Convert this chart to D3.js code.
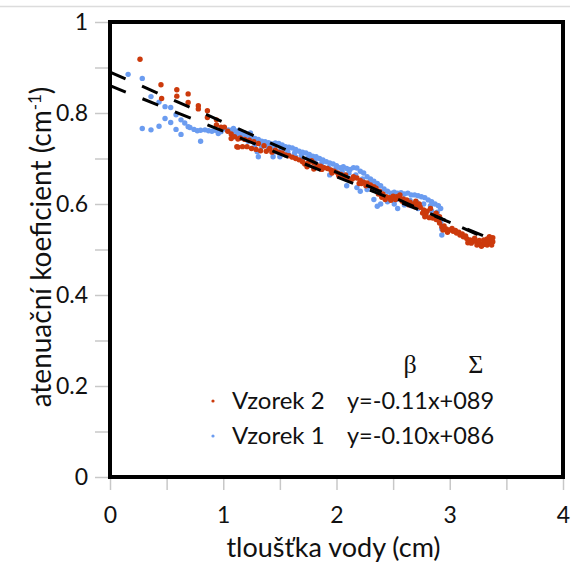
<!DOCTYPE html>
<html>
<head>
<meta charset="utf-8">
<script src="https://cdn.jsdelivr.net/npm/d3@7"></script>
<style>
  body { margin: 0; background: #fff; }
  text { font-family: Lato, "Open Sans", sans-serif; fill: #111; }
</style>
</head>
<body>
<div id="chart"></div>
<script>
// Vzorek 2 (červená) – [tloušťka, koeficient]
const vzorek2 = [
  [0.265,0.918],[0.45,0.862],[0.456,0.832],[0.59,0.851],[0.59,0.837],[0.69,0.842],[0.69,0.823],
  [0.78,0.816],[0.78,0.809],[0.86,0.805],[0.86,0.790],[0.94,0.785],[0.94,0.774],[0.98,0.769],
  [1.01,0.769],[1.04,0.760],[1.07,0.754],[1.07,0.744],[1.10,0.748],[1.13,0.743],[1.13,0.725],
  [1.12,0.726],[1.15,0.745],[1.17,0.726],[1.19,0.742],[1.21,0.726],[1.23,0.740],[1.25,0.722],
  [1.27,0.737],[1.29,0.720],[1.31,0.733],[1.33,0.717],[1.36,0.728],[1.38,0.716],[1.41,0.722],
  [1.43,0.714],[1.46,0.718],[1.49,0.714],[1.52,0.712],[1.55,0.708],[1.58,0.706],[1.61,0.703],
  [1.64,0.700],[1.67,0.697],[1.70,0.693],[1.72,0.688],[1.74,0.682],[1.75,0.690],[1.78,0.695],
  [1.80,0.690],[1.80,0.677],[1.83,0.684],[1.86,0.683],[1.87,0.676],[1.89,0.680],[1.92,0.678],
  [1.95,0.675],[1.98,0.672],[2.01,0.668],[2.04,0.665],[2.07,0.660],[2.10,0.656],[2.12,0.653],
  [2.15,0.660],[2.18,0.657],[2.20,0.645],[2.21,0.652],[2.24,0.648],[2.27,0.646],[2.30,0.642],
  [2.33,0.638],[2.35,0.635],[2.38,0.628],[2.40,0.615],[2.41,0.622],[2.44,0.616],[2.47,0.614],
  [2.50,0.617],[2.53,0.616],[2.56,0.613],[2.56,0.620],[2.59,0.611],[2.60,0.603],[2.62,0.609],
  [2.65,0.604],[2.68,0.600],[2.70,0.606],[2.71,0.598],[2.74,0.593],[2.77,0.587],[2.79,0.578],
  [2.78,0.572],[2.82,0.570],[2.83,0.590],[2.85,0.569],[2.88,0.566],[2.88,0.580],[2.91,0.558],
  [2.91,0.572],[2.93,0.550],[2.94,0.543],[2.97,0.545],[3.00,0.543],[3.03,0.540],[3.06,0.536],
  [3.09,0.532],[3.12,0.528],[3.15,0.524],[3.18,0.521],[3.21,0.518],[3.24,0.517],[3.24,0.510],
  [3.27,0.513],[3.30,0.521],[3.30,0.511],[3.33,0.510],[3.33,0.523],[3.36,0.525],[3.36,0.514],
  [3.38,0.517],[3.38,0.526],
  [1.96,0.668],[2.02,0.662],[2.08,0.664],[2.14,0.655],[2.22,0.645],[2.26,0.640],[2.32,0.632],
  [2.37,0.622],[2.43,0.610],[2.48,0.608],[2.52,0.610],[2.58,0.606],[2.64,0.598],[2.69,0.594],
  [2.73,0.600],[2.76,0.580],[2.80,0.584],[2.86,0.575],[2.90,0.565],[2.95,0.552],[2.98,0.538],
  [3.02,0.546],[3.05,0.542],[3.08,0.538],[3.11,0.534],[3.14,0.530],[3.16,0.515],[3.19,0.514],
  [3.22,0.525],[3.26,0.520],[3.28,0.507],[3.31,0.516],[3.34,0.518],[3.37,0.510],[3.35,0.528]
];

// Vzorek 1 (modrá)
const vzorek1 = [
  [0.16,0.885],[0.285,0.876],[0.285,0.766],[0.362,0.836],[0.362,0.763],[0.433,0.824],[0.433,0.771],
  [0.486,0.814],[0.486,0.788],[0.536,0.812],[0.536,0.779],[0.583,0.796],[0.583,0.764],[0.627,0.785],
  [0.627,0.753],[0.66,0.778],[0.69,0.770],[0.706,0.768],[0.742,0.764],[0.771,0.761],[0.80,0.762],
  [0.80,0.738],[0.839,0.763],[0.87,0.761],[0.90,0.760],[0.93,0.762],[0.956,0.755],[0.98,0.759],
  [1.01,0.765],[1.045,0.763],[1.07,0.762],[1.09,0.766],[1.10,0.758],[1.10,0.748],[1.13,0.761],
  [1.16,0.755],[1.16,0.745],[1.19,0.756],[1.22,0.750],[1.22,0.738],[1.24,0.756],[1.25,0.748],
  [1.28,0.744],[1.28,0.730],[1.31,0.742],[1.30,0.715],[1.31,0.704],[1.34,0.738],[1.34,0.726],
  [1.37,0.737],[1.40,0.735],[1.40,0.720],[1.41,0.726],[1.43,0.732],[1.44,0.704],[1.46,0.734],
  [1.46,0.715],[1.49,0.733],[1.50,0.704],[1.52,0.730],[1.52,0.712],[1.55,0.726],[1.58,0.725],
  [1.58,0.708],[1.61,0.723],[1.64,0.720],[1.64,0.703],[1.67,0.716],[1.70,0.714],[1.70,0.698],
  [1.73,0.712],[1.76,0.709],[1.76,0.695],[1.79,0.705],[1.82,0.704],[1.82,0.688],[1.85,0.700],
  [1.88,0.697],[1.88,0.680],[1.91,0.693],[1.94,0.690],[1.94,0.664],[1.97,0.688],[1.97,0.672],
  [2.00,0.684],[2.03,0.680],[2.03,0.662],[2.06,0.682],[2.09,0.678],[2.09,0.640],[2.12,0.676],
  [2.12,0.655],[2.15,0.680],[2.18,0.679],[2.18,0.636],[2.21,0.672],[2.21,0.628],[2.24,0.668],
  [2.27,0.660],[2.27,0.632],[2.30,0.655],[2.33,0.650],[2.33,0.610],[2.36,0.645],[2.36,0.595],
  [2.39,0.640],[2.39,0.600],[2.42,0.633],[2.45,0.628],[2.45,0.605],[2.48,0.624],[2.51,0.626],
  [2.51,0.600],[2.54,0.624],[2.54,0.590],[2.57,0.625],[2.60,0.622],[2.60,0.598],[2.63,0.624],
  [2.66,0.620],[2.66,0.596],[2.69,0.620],[2.72,0.618],[2.72,0.590],[2.75,0.616],[2.78,0.614],
  [2.78,0.574],[2.81,0.609],[2.84,0.605],[2.84,0.585],[2.87,0.600],[2.90,0.596],[2.90,0.565],
  [2.92,0.590],[2.93,0.545],[2.93,0.532],
  [1.12,0.752],[1.18,0.748],[1.26,0.740],[1.33,0.733],[1.39,0.728],[1.45,0.725],[1.51,0.720],
  [1.57,0.716],[1.63,0.712],[1.69,0.707],[1.75,0.702],[1.81,0.696],[1.87,0.690],[1.93,0.680],
  [1.99,0.676],[2.05,0.672],[2.11,0.668],[2.17,0.664],[2.23,0.655],[2.29,0.645],[2.35,0.630],
  [2.41,0.618],[2.47,0.612],[2.53,0.610],[2.59,0.610],[2.65,0.608],[2.71,0.604],[2.77,0.600],
  [2.83,0.596],[2.89,0.582],[2.92,0.560]
];

// lineární fity (přerušované čáry)
const fitNames = ['Vzorek 2', 'Vzorek 1'];
const fitSlopes = [-0.11, -0.10];
const fitIntercepts = [0.89, 0.86];
const fitRange = [0, 3.38];

const legendLabels = ['Vzorek 2', 'Vzorek 1'];
const legendEquations = ['y=-0.11x+089', 'y=-0.10x+086'];

const xTicks = [0, 1, 2, 3, 4];
const xMinorTicks = [0, 0.5, 1, 1.5, 2, 2.5, 3, 3.5, 4];
const yTicks = [0, 0.2, 0.4, 0.6, 0.8, 1];
const yMinorTicks = [0, 0.1, 0.2, 0.3, 0.4, 0.5, 0.6, 0.7, 0.8, 0.9, 1];

const W = 571, H = 569;
const margin = { top: 22, right: 8, bottom: 92, left: 110 };
const width = W - margin.left - margin.right;
const height = H - margin.top - margin.bottom;

const colors = { 'Vzorek 2': '#cc3a0c', 'Vzorek 1': '#6b9cf0' };

const svg = d3.select('#chart')
  .append('svg')
  .attr('width', W)
  .attr('height', H);

// šedá linka nahoře
svg.append('line')
  .attr('x1', 0).attr('x2', 570)
  .attr('y1', 6.5).attr('y2', 6.5)
  .attr('stroke', '#dcdcdc')
  .attr('stroke-width', 1.5);

const g = svg.append('g')
  .attr('transform', `translate(${margin.left},${margin.top})`);

const x = d3.scaleLinear().domain([0, 4]).range([0, width]);
const y = d3.scaleLinear().domain([0, 1]).range([height, 0]);

// Osa Y
const yAxis = g.append('g')
  .attr('transform', 'translate(-2,0)')
  .call(d3.axisLeft(y)
    .tickValues(yMinorTicks)
    .tickSize(13)
    .tickPadding(7)
    .tickFormat(d => yTicks.some(t => Math.abs(t - d) < 1e-9) ? d3.format('~g')(d) : ''));
yAxis.select('.domain').remove();
yAxis.selectAll('.tick line').attr('stroke', '#c8c8c8').attr('stroke-width', 1.5);
yAxis.selectAll('.tick text')
  .style('font-size', '23px')
  .style('font-family', 'Lato, sans-serif')
  .attr('fill', '#111');

// Osa X
const xAxis = g.append('g')
  .attr('transform', `translate(0,${height + 2})`)
  .call(d3.axisBottom(x)
    .tickValues(xMinorTicks)
    .tickSize(11)
    .tickPadding(17)
    .tickFormat(d => xTicks.includes(d) ? d : ''));
xAxis.select('.domain').remove();
xAxis.selectAll('.tick line').attr('stroke', '#c8c8c8').attr('stroke-width', 1.5);
xAxis.selectAll('.tick text')
  .style('font-size', '23px')
  .style('font-family', 'Lato, sans-serif')
  .attr('fill', '#111');

// Body
function drawPoints(data, name) {
  g.append('g')
    .selectAll('circle')
    .data(data)
    .enter()
    .append('circle')
    .attr('cx', d => x(d[0]))
    .attr('cy', d => y(d[1]))
    .attr('r', 2.7)
    .attr('fill', colors[name]);
}
drawPoints(vzorek1, 'Vzorek 1');
drawPoints(vzorek2, 'Vzorek 2');

// Přerušované čáry
fitNames.forEach((name, i) => {
  g.append('line')
    .attr('x1', x(fitRange[0]))
    .attr('y1', y(fitIntercepts[i] + fitSlopes[i] * fitRange[0]))
    .attr('x2', x(fitRange[1]))
    .attr('y2', y(fitIntercepts[i] + fitSlopes[i] * fitRange[1]))
    .attr('stroke', '#000')
    .attr('stroke-width', 3)
    .attr('stroke-dasharray', '17,18');
});

// Rámeček
g.append('rect')
  .attr('x', 0).attr('y', 0)
  .attr('width', width).attr('height', height)
  .attr('fill', 'none')
  .attr('stroke', '#000')
  .attr('stroke-width', 4);

// Popisky os
svg.append('text')
  .attr('x', margin.left + width / 2 - 3)
  .attr('y', 557)
  .attr('text-anchor', 'middle')
  .style('font-size', '27px')
  .text('tloušťka vody (cm)');

const yl = svg.append('text')
  .attr('transform', `translate(51,${247}) rotate(-90)`)
  .attr('text-anchor', 'middle')
  .style('font-size', '28px');
yl.append('tspan').text('atenuační koeficient (cm');
yl.append('tspan').attr('baseline-shift', 'super').style('font-size', '17px').text('-1');
yl.append('tspan').text(')');

// Legenda
const legend = g.append('g');
legend.append('text')
  .attr('x', x(2.65)).attr('y', 351)
  .attr('text-anchor', 'middle')
  .style('font-family', '"Liberation Serif", "DejaVu Serif", serif')
  .style('font-size', '26px')
  .text('β');
legend.append('text')
  .attr('x', x(3.23)).attr('y', 351)
  .attr('text-anchor', 'middle')
  .style('font-family', '"Liberation Serif", "DejaVu Serif", serif')
  .style('font-size', '26px')
  .text('Σ');

legendLabels.forEach((name, i) => {
  const yy = 379 + i * 35;
  legend.append('circle')
    .attr('cx', 103).attr('cy', yy)
    .attr('r', 1.6)
    .attr('fill', colors[name]);
  legend.append('text')
    .attr('x', 122).attr('y', yy + 8)
    .style('font-size', '24px')
    .text(name);
  legend.append('text')
    .attr('x', 237).attr('y', yy + 8)
    .style('font-size', '23.5px')
    .text(legendEquations[i]);
});
</script>
</body>
</html>
